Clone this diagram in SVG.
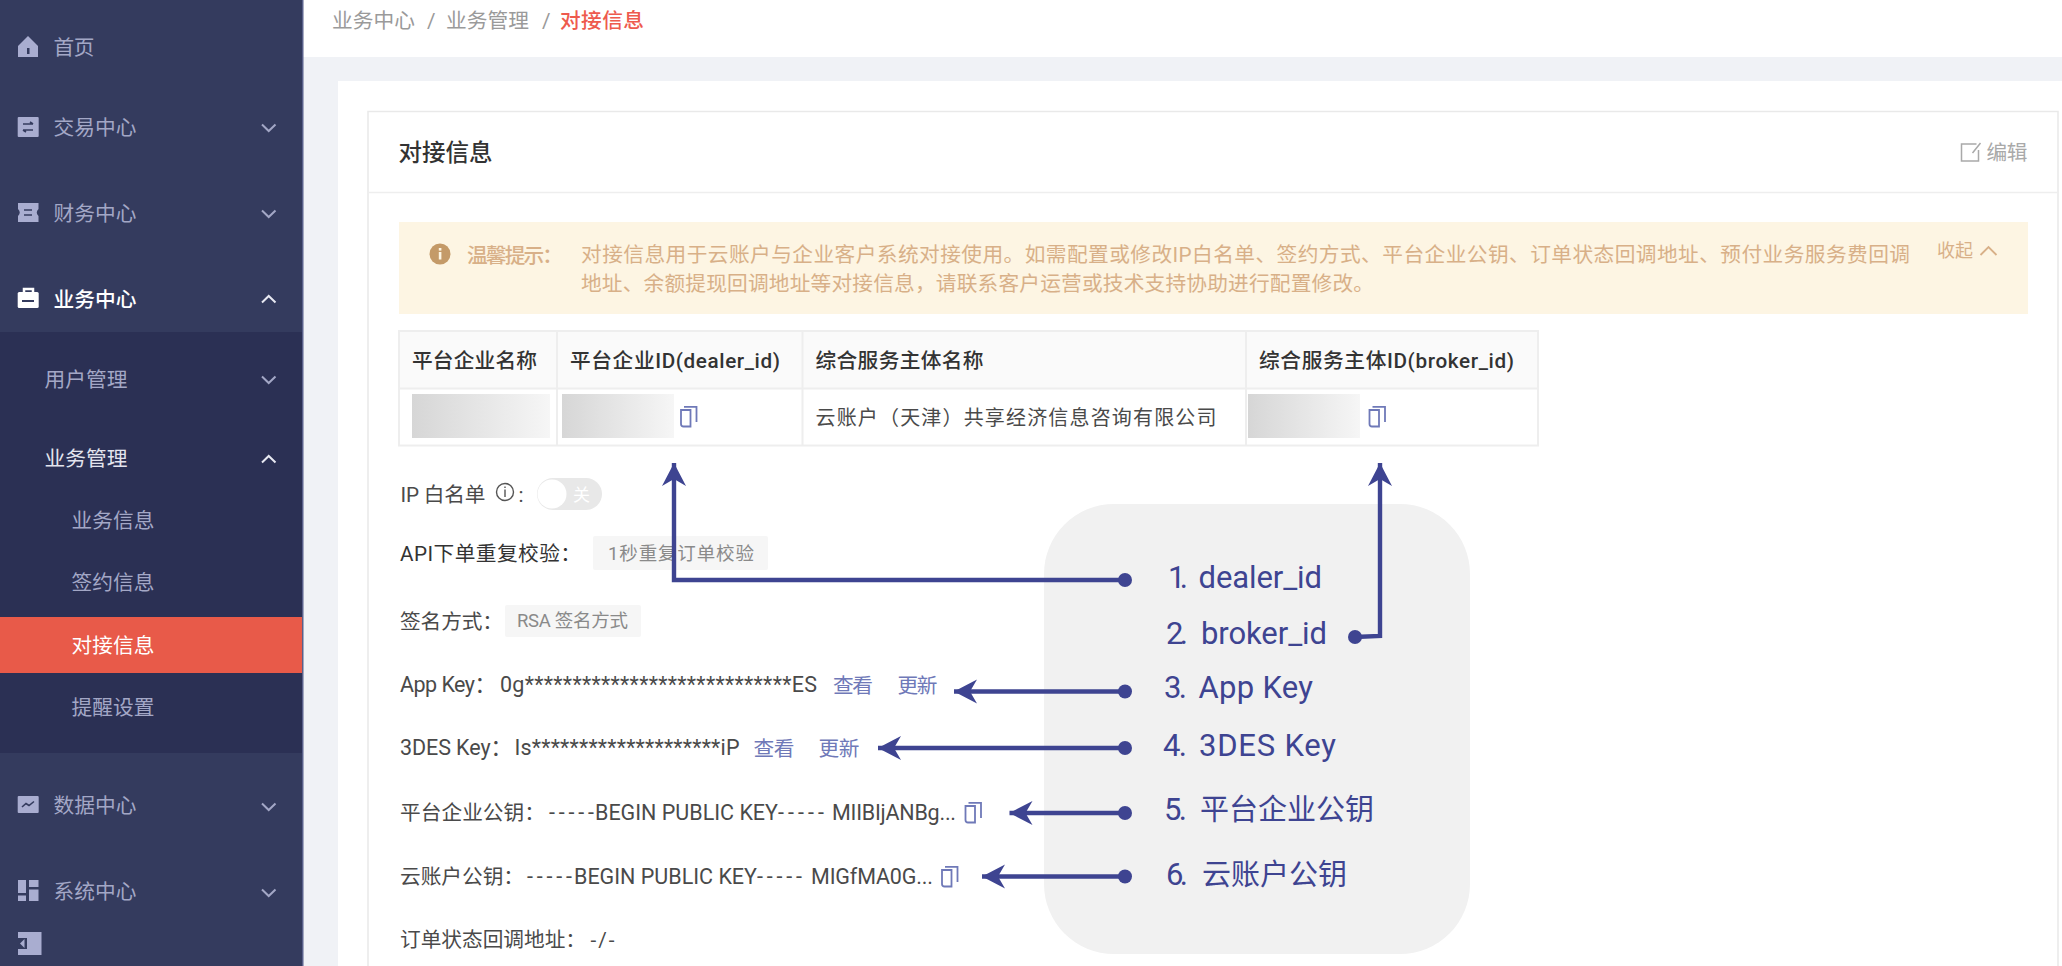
<svg xmlns="http://www.w3.org/2000/svg" width="2062" height="966" viewBox="0 0 2062 966">
<style>
text{font-family:"Roboto","Noto Sans CJK SC","Noto Sans",sans-serif;font-size:20.7px;fill:#4a4a4a}
.nav{fill:#a3a7c6}
.on{fill:#fff;font-weight:500}
.sub{fill:#e3e4ee}
.ico{fill:#a9add0}
.chev{fill:none;stroke:#a3a7c6;stroke-width:2}
.chevw{fill:none;stroke:#e8e9f2;stroke-width:2}
.crumb{fill:#9a9a9a}
.alert{fill:#d8b088}
.th{fill:#333;font-weight:500}
.link{fill:#6f79b8}
.lab{fill:#3e4491;font-size:31px}
.labc{fill:#3e4491;font-size:29px}
.tag{fill:#f6f6f6}
.tagt{fill:#8a8a8a;font-size:18.5px}
.cell{fill:none;stroke:#eeeeee;stroke-width:2}
.copy{fill:none;stroke:#6f79b8;stroke-width:1.8}
.ln{fill:none;stroke:#3e4491;stroke-width:4.4}
.dot{fill:#3e4491}
.key{font-size:21.5px}
</style>
<defs>
<linearGradient id="blur" x1="0" x2="1" y1="0" y2="0"><stop offset="0" stop-color="#d6d6d6"/><stop offset="1" stop-color="#f6f6f6"/></linearGradient>
<marker id="ah" markerUnits="userSpaceOnUse" markerWidth="26" markerHeight="26" refX="23" refY="12" orient="auto"><path d="M23 12L0 0L7 12L0 24Z" fill="#3e4491"/></marker>
<g id="copyi"><path class="copy" d="M4 0.9H16.5V16M10.5 4V20.5H3.5Q1 20.5 1 18V4Z"/></g>
</defs>
<rect width="2062" height="966" fill="#f0f2f6"/>
<g id="topbar"><rect x="302" width="1760" height="57" fill="#fff"/>
<text class="crumb" x="332" y="27.500" textLength="83">业务中心</text>
<text class="crumb" x="427" y="27.500">/</text>
<text class="crumb" x="446" y="27.500" textLength="83">业务管理</text>
<text class="crumb" x="542" y="27.500">/</text>
<text x="560" y="27.500" textLength="84" style="fill:#ee5a4d;font-weight:500">对接信息</text></g>
<rect id="panel" x="338" y="81" width="1724" height="885" fill="#fff"/>
<g id="sidebar">
<rect width="302" height="966" fill="#343b5e"/><rect x="302" width="1.500" height="966" fill="#59608a"/>
<rect y="332" width="302" height="421" fill="#2b3054"/>
<rect y="617" width="302" height="56" fill="#e85a49"/>
<g id="nav-home"><path class="ico" d="M18 46L28 36L38 46V57H18Z"/><rect x="27" y="48" width="2.500" height="6" fill="#343b5e"/><text class="nav" x="53.500" y="55" textLength="41">首页</text></g>
<g id="nav-trade"><rect class="ico" x="17.700" y="117" width="21" height="20" rx="1"/><path d="M23 124H33M33 124L30 122M33 130H23M23 130L26 132" fill="none" stroke="#343b5e" stroke-width="1.600"/><text class="nav" x="53.500" y="134.500" textLength="83">交易中心</text><path class="chev" d="M262 124.500L268.700 131L275.500 124.500"/></g>
<g id="nav-finance"><path class="ico" d="M18 203H38.500V209Q35 212.500 38.500 216V222H18V216Q21.500 212.500 18 209Z"/><path d="M24 210H32M24 215H32" stroke="#343b5e" stroke-width="1.600"/><text class="nav" x="53.500" y="220.500" textLength="83">财务中心</text><path class="chev" d="M262 210.500L268.700 217L275.500 210.500"/></g>
<g id="nav-business"><path d="M24 293V289H33V293" fill="none" stroke="#fff" stroke-width="2.500"/><rect x="17.700" y="292" width="21" height="16" rx="1.500" fill="#fff"/><rect x="22" y="300" width="12" height="2" fill="#343b5e"/><text class="on" x="53.500" y="306.500" textLength="83">业务中心</text><path class="chevw" d="M262 302.500L268.700 296L275.500 302.500"/></g>
<g id="nav-user"><text class="nav" x="44.500" y="386.500" textLength="83">用户管理</text><path class="chev" d="M262 376.500L268.700 383L275.500 376.500"/></g>
<g id="nav-bizmgmt"><text class="sub" x="44.500" y="466" textLength="83">业务管理</text><path class="chevw" d="M262 462.500L268.700 456L275.500 462.500"/></g>
<text class="nav" x="71.500" y="528" textLength="83">业务信息</text>
<text class="nav" x="71.500" y="590" textLength="83">签约信息</text>
<text class="on" x="71.500" y="653" textLength="83" style="font-weight:400">对接信息</text>
<text class="nav" x="71.500" y="715" textLength="83">提醒设置</text>
<g id="nav-data"><rect class="ico" x="17.700" y="796" width="21" height="17" rx="1"/><path d="M22 807L26 803.500L29 805.500L34 801.500" fill="none" stroke="#343b5e" stroke-width="1.600"/><text class="nav" x="53.500" y="812.500" textLength="83">数据中心</text><path class="chev" d="M262 803.500L268.700 810L275.500 803.500"/></g>
<g id="nav-system"><path class="ico" d="M18 880H26V893H18ZM29 880H38.500V887H29ZM29 889.500H38.500V901H29ZM18 895.500H26V901H18Z"/><text class="nav" x="53.500" y="899" textLength="83">系统中心</text><path class="chev" d="M262 889.500L268.700 896L275.500 889.500"/></g>
<g id="collapse"><path class="ico" d="M18 932H41.500V955H18V949H27V938H18Z"/><path class="ico" d="M24.500 939V948L20 943.500Z"/></g>
</g>
<g id="card">
<rect x="368" y="111.500" width="1690" height="860" fill="#fff" stroke="#e9e9e9" stroke-width="1.500"/>
<path d="M368 192.500H2058" stroke="#eeeeee" stroke-width="1.500"/>
<text x="398.500" y="161" textLength="94" style="font-size:23.500px;font-weight:500;fill:#333">对接信息</text>
<g id="edit"><path d="M1976.500 144H1961.500V161H1978.500V150M1980.500 143L1972.500 153" fill="none" stroke="#a9a9a9" stroke-width="1.500"/><text x="1986.500" y="159.500" textLength="41" style="fill:#a9a9a9">编辑</text></g>
</g>
<g id="alert">
<rect x="399" y="222" width="1629" height="92" fill="#fdf5e3"/>
<circle cx="440" cy="254" r="10.500" fill="#c49a68"/><rect x="438.800" y="252" width="2.600" height="7.500" fill="#fdf5e3"/><rect x="438.800" y="248" width="2.600" height="2.600" fill="#fdf5e3"/>
<text class="alert" x="467" y="263" textLength="96" style="font-weight:500">温馨提示：</text>
<text class="alert" x="581" y="262" textLength="1329">对接信息用于云账户与企业客户系统对接使用。如需配置或修改IP白名单、签约方式、平台企业公钥、订单状态回调地址、预付业务服务费回调</text>
<text class="alert" x="581" y="291" textLength="793">地址、余额提现回调地址等对接信息，请联系客户运营或技术支持协助进行配置修改。</text>
<text class="alert" x="1937" y="257" textLength="36" style="font-size:18px">收起</text>
<path d="M1980.500 255L1988.500 247L1996.500 255" fill="none" stroke="#d8b088" stroke-width="1.800"/>
</g>
<g id="table">
<rect x="399" y="331" width="1139" height="57" fill="#fafafa"/>
<rect class="cell" x="399" y="331" width="1139" height="114.500"/>
<path class="cell" d="M399 388.500H1538M557 331V445.500M802.500 331V445.500M1246 331V445.500"/>
<text class="th" x="412" y="368" textLength="125">平台企业名称</text>
<text class="th" x="570" y="368" textLength="210">平台企业ID(dealer_id)</text>
<text class="th" x="815.500" y="368" textLength="168">综合服务主体名称</text>
<text class="th" x="1259" y="368" textLength="255">综合服务主体ID(broker_id)</text>
<rect x="412" y="394" width="138" height="44" fill="url(#blur)"/>
<rect x="562" y="394" width="112" height="44" fill="url(#blur)"/>
<rect x="1248" y="394" width="112" height="44" fill="url(#blur)"/>
<use href="#copyi" x="680" y="406"/>
<use href="#copyi" x="1368.500" y="406"/>
<text x="815.500" y="425" textLength="401" style="font-size:20px">云账户（天津）共享经济信息咨询有限公司</text>
</g>
<g id="form">
<text x="400.500" y="502" textLength="85">IP 白名单</text>
<circle cx="505" cy="492" r="8.500" fill="none" stroke="#555" stroke-width="1.400"/><path d="M505 489.500V497M505 486.500V488" stroke="#555" stroke-width="1.400"/>
<text x="518.500" y="502">:</text>
<rect x="537" y="478" width="65" height="32" rx="16" fill="#e8e8e8"/><circle cx="552" cy="494" r="14.500" fill="#fff"/>
<text x="573" y="501" style="font-size:17px;fill:#fff">关</text>
<text x="400" y="561" textLength="181" style="fill:#333">API下单重复校验：</text>
<rect class="tag" x="593" y="536" width="175" height="34" rx="2"/>
<text class="tagt" x="608" y="560" textLength="146">1秒重复订单校验</text>
<text x="400" y="629" textLength="103">签名方式：</text>
<rect class="tag" x="505" y="605" width="136" height="32" rx="2"/>
<text class="tagt" x="517" y="627" textLength="111">RSA 签名方式</text>
<text class="key" x="400" y="692" textLength="96">App Key：</text>
<text class="key" x="500" y="692" textLength="317">0g****************************ES</text>
<text class="link" x="833" y="692.500" textLength="40">查看</text>
<text class="link" x="897.500" y="692.500" textLength="40">更新</text>
<text class="key" x="400" y="755" textLength="112">3DES Key：</text>
<text class="key" x="514.500" y="755" textLength="225">Is********************iP</text>
<text class="link" x="753.500" y="755.500" textLength="41">查看</text>
<text class="link" x="818.500" y="755.500" textLength="41">更新</text>
<text x="400" y="820" textLength="145">平台企业公钥：</text>
<text class="key" x="549" y="820" textLength="45">-----</text>
<text class="key" x="595" y="820" textLength="183">BEGIN PUBLIC KEY</text>
<text class="key" x="778" y="820" textLength="46">-----</text>
<text class="key" x="832" y="820" textLength="124">MIIBIjANBg...</text>
<use href="#copyi" x="964.500" y="802"/>
<text x="400" y="884" textLength="124">云账户公钥：</text>
<text class="key" x="527" y="884" textLength="45">-----</text>
<text class="key" x="574" y="884" textLength="183">BEGIN PUBLIC KEY</text>
<text class="key" x="757" y="884" textLength="45">-----</text>
<text class="key" x="811" y="884" textLength="122">MIGfMA0G...</text>
<use href="#copyi" x="941" y="866"/>
<text x="400" y="947" textLength="186">订单状态回调地址：</text>
<text x="590.500" y="947" textLength="24">-/-</text>
</g>
<g id="legend">
<rect x="1044" y="504" width="426" height="450" rx="70" fill="#f1f1f1"/>
</g>
<g id="connectors">
<path class="ln" marker-end="url(#ah)" d="M1125 580H674V463"/>
<path class="ln" marker-end="url(#ah)" d="M1355 637L1380 636V463"/>
<path class="ln" marker-end="url(#ah)" d="M1125 691.500H954"/>
<path class="ln" marker-end="url(#ah)" d="M1125 748H878"/>
<path class="ln" marker-end="url(#ah)" d="M1125 813H1009.500"/>
<path class="ln" marker-end="url(#ah)" d="M1125 876.500H982"/>
<circle class="dot" cx="1125" cy="580" r="7"/><circle class="dot" cx="1355" cy="637" r="7"/><circle class="dot" cx="1125" cy="691.500" r="7"/><circle class="dot" cx="1125" cy="748" r="7"/><circle class="dot" cx="1125" cy="813" r="7"/><circle class="dot" cx="1125" cy="876.500" r="7"/>
</g>
<g id="labels">
<text class="lab" x="1168" y="588" textLength="20">1.</text><text class="lab" x="1198.500" y="588" textLength="123.500">dealer_id</text>
<text class="lab" x="1166" y="644" textLength="22">2.</text><text class="lab" x="1201" y="644" textLength="126">broker_id</text>
<text class="lab" x="1164" y="698" textLength="23">3.</text><text class="lab" x="1198.500" y="698" textLength="114.500">App Key</text>
<text class="lab" x="1163" y="756" textLength="24">4.</text><text class="lab" x="1199" y="756" textLength="137">3DES Key</text>
<text class="lab" x="1164" y="820" textLength="23">5.</text><text class="labc" x="1200" y="820" textLength="174">平台企业公钥</text>
<text class="lab" x="1166" y="885" textLength="22">6.</text><text class="labc" x="1202" y="885" textLength="145">云账户公钥</text>
</g>
</svg>
